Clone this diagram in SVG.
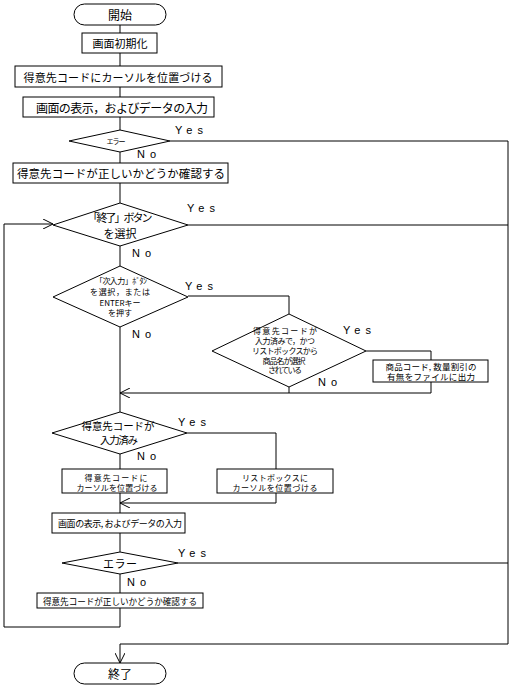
<svg xmlns="http://www.w3.org/2000/svg" width="512" height="687" viewBox="0 0 512 687">
<defs>
<style>
.s{fill:#fff;stroke:#000;stroke-width:1}
.c{fill:none;stroke:#000;stroke-width:1}
text{font-family:"Noto Sans CJK JP","Liberation Sans",sans-serif;fill:#000;text-anchor:middle;dominant-baseline:central}
.yn{font-family:"Liberation Sans",sans-serif;font-size:11px;letter-spacing:5px;text-anchor:start}
</style>
<marker id="a" viewBox="0 0 10 10" refX="10" refY="5" markerWidth="10" markerHeight="10" markerUnits="userSpaceOnUse" orient="auto">
<path d="M0,0 L10,5 L0,10" fill="none" stroke="#000" stroke-width="1"/>
</marker>
</defs>
<rect width="512" height="687" fill="#fff"/>
<g id="connectors">
<path class="c" d="M120,25V33M120,53V66M120,87V97M120,117V130M120,152V163M120,183V203"/>
<path class="c" d="M170,141H508V644H120V663" marker-end="url(#a)"/>
<path class="c" d="M188,225H508"/>
<path class="c" d="M120,246V266"/>
<path class="c" d="M188,296H289V314"/>
<path class="c" d="M366,351H431V360"/>
<path class="c" d="M289,387V393"/>
<path class="c" d="M431,382V393H120" marker-end="url(#a)"/>
<path class="c" d="M120,327V412"/>
<path class="c" d="M187,433H276V469"/>
<path class="c" d="M120,454V469"/>
<path class="c" d="M120,493V513"/>
<path class="c" d="M276,493V503H120" marker-end="url(#a)"/>
<path class="c" d="M120,533V552"/>
<path class="c" d="M178,563H508"/>
<path class="c" d="M120,574V593"/>
<path class="c" d="M120,608V627H4V224H53" marker-end="url(#a)"/>
</g>
<g id="labels">
<text class="yn" x="175" y="130">Yes</text>
<text class="yn" x="137" y="154">No</text>
<text class="yn" x="187" y="208">Yes</text>
<text class="yn" x="132" y="253">No</text>
<text class="yn" x="185" y="286">Yes</text>
<text class="yn" x="132" y="334">No</text>
<text class="yn" x="343" y="330">Yes</text>
<text class="yn" x="318" y="382">No</text>
<text class="yn" x="178" y="422">Yes</text>
<text class="yn" x="137" y="456">No</text>
<text class="yn" x="178" y="553">Yes</text>
<text class="yn" x="127" y="582">No</text>
</g>
<g id="start">
<rect class="s" x="74" y="4" width="92" height="21" rx="10.5"/>
<text x="120" y="14.5" font-size="12">開始</text>
</g>
<g id="init">
<rect class="s" x="82" y="33" width="75" height="20"/>
<text x="120" y="43" font-size="11" textLength="55">画面初期化</text>
</g>
<g id="cursor1">
<rect class="s" x="15" y="66" width="207" height="21"/>
<text x="118" y="76.5" font-size="11" textLength="189">得意先コードにカーソルを位置づける</text>
</g>
<g id="display1">
<rect class="s" x="23" y="97" width="191" height="20"/>
<text x="122" y="107" font-size="12" textLength="172">画面の表示，およびデータの入力</text>
</g>
<g id="error1">
<polygon class="s" points="69,141 120,130 170,141 120,152"/>
<text x="116" y="141" font-size="7" textLength="19">エラー</text>
</g>
<g id="check1">
<rect class="s" x="13" y="163" width="215" height="20"/>
<text x="121" y="173" font-size="11.5" textLength="208">得意先コードが正しいかどうか確認する</text>
</g>
<g id="endbutton">
<polygon class="s" points="53,225 120,203 188,225 120,246"/>
<text x="120" y="217" font-size="11" textLength="65">「終了」ボタン</text>
<text x="120" y="233" font-size="11">を選択</text>
</g>
<g id="nextinput">
<polygon class="s" points="53,297 120,266 188,297 120,327"/>
<text x="121" y="280" font-size="8" textLength="52">「次入力」ﾎﾞﾀﾝ</text>
<text x="120" y="291" font-size="8" textLength="60">を選択，または</text>
<text x="120" y="302" font-size="8" textLength="41">ENTERキー</text>
<text x="120" y="312.5" font-size="8" textLength="24">を押す</text>
</g>
<g id="selected">
<polygon class="s" points="212,351 289,314 366,351 289,387"/>
<text x="285" y="330" font-size="8" textLength="64">得意先コードが</text>
<text x="285" y="340" font-size="8" textLength="60">入力済みで，かつ</text>
<text x="285" y="350" font-size="8" textLength="66">リストボックスから</text>
<text x="284" y="360" font-size="8" textLength="43">商品名が選択</text>
<text x="285" y="369.5" font-size="8" textLength="34">されている</text>
</g>
<g id="output">
<rect class="s" x="373" y="360" width="115" height="22"/>
<text x="431" y="365.5" font-size="8.5" textLength="91">商品コード, 数量割引の</text>
<text x="431" y="376" font-size="8.5" textLength="88">有無をファイルに出力</text>
</g>
<g id="entered">
<polygon class="s" points="52,433 120,412 187,433 120,454"/>
<text x="118" y="425" font-size="10.5" textLength="73">得意先コードが</text>
<text x="119" y="439" font-size="10.5" textLength="38">入力済み</text>
</g>
<g id="cursor2">
<rect class="s" x="62" y="469" width="105" height="24"/>
<text x="116" y="477" font-size="8" textLength="63">得意先コードに</text>
<text x="117" y="487" font-size="8" textLength="81">カーソルを位置づける</text>
</g>
<g id="cursor3">
<rect class="s" x="217" y="469" width="116" height="24"/>
<text x="275" y="477" font-size="8" textLength="66">リストボックスに</text>
<text x="275" y="487" font-size="8" textLength="85">カーソルを位置づける</text>
</g>
<g id="display2">
<rect class="s" x="52" y="513" width="133" height="20"/>
<text x="120" y="523" font-size="9" textLength="124">画面の表示, およびデータの入力</text>
</g>
<g id="error2">
<polygon class="s" points="62,563 120,552 178,563 120,574"/>
<text x="120" y="563" font-size="11" textLength="34">エラー</text>
</g>
<g id="check2">
<rect class="s" x="37" y="593" width="166" height="15"/>
<text x="120" y="601" font-size="8.6" textLength="154">得意先コードが正しいかどうか確認する</text>
</g>
<g id="end">
<rect class="s" x="74" y="663" width="92" height="21" rx="10.5"/>
<text x="120" y="673.5" font-size="12">終了</text>
</g>
</svg>
